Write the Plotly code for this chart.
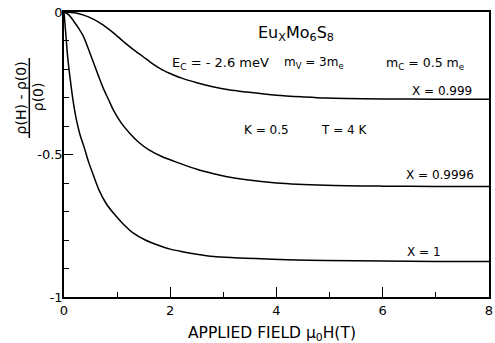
import plotly.graph_objects as go

# X = 0.999
h_a = [0, 0.2, 0.37, 0.55, 0.74, 0.93, 1.12, 1.3, 1.49, 1.67, 1.86, 2.05, 2.23, 2.5, 2.8, 3.1, 3.44, 4.0, 4.5, 4.93, 6.0, 7.0, 8.0]
r_a = [0, -0.003, -0.011, -0.025, -0.046, -0.073, -0.104, -0.131, -0.157, -0.182, -0.204, -0.220, -0.233, -0.248, -0.262, -0.273, -0.281, -0.292, -0.298, -0.302, -0.305, -0.306, -0.306]

# X = 0.9996
h_b = [0, 0.1, 0.19, 0.28, 0.37, 0.46, 0.56, 0.65, 0.74, 0.84, 0.93, 1.08, 1.24, 1.4, 1.6, 1.85, 2.18, 2.5, 2.8, 3.07, 3.4, 4.0, 4.93, 6.0, 7.0, 8.0]
r_b = [0, -0.012, -0.034, -0.058, -0.087, -0.13, -0.18, -0.225, -0.268, -0.308, -0.344, -0.39, -0.426, -0.456, -0.484, -0.508, -0.531, -0.552, -0.567, -0.578, -0.588, -0.600, -0.608, -0.611, -0.612, -0.612]

# X = 1
h_c = [0, 0.035, 0.07, 0.12, 0.17, 0.23, 0.3, 0.38, 0.46, 0.54, 0.66, 0.79, 0.95, 1.1, 1.3, 1.53, 1.8, 2.0, 2.23, 2.5, 2.82, 3.2, 3.6, 4.2, 4.93, 6.0, 7.0, 8.0]
r_c = [0, -0.08, -0.16, -0.24, -0.31, -0.375, -0.43, -0.475, -0.525, -0.566, -0.625, -0.671, -0.71, -0.741, -0.775, -0.80, -0.82, -0.832, -0.841, -0.85, -0.858, -0.862, -0.865, -0.869, -0.872, -0.874, -0.875, -0.875]

x_ticks = [0, 2, 4, 6, 8]
x_minor = [1, 3, 5, 7]
y_ticks = [0, -0.5, -1]
y_ticktext = ["0", "-0.5", "-1"]

FONT = "DejaVu Sans"

fig = go.Figure()
for hx, ry in [(h_a, r_a), (h_b, r_b), (h_c, r_c)]:
    fig.add_trace(go.Scatter(x=hx, y=ry, mode="lines",
                             line=dict(color="black", width=1.5, shape="spline", smoothing=0.8),
                             showlegend=False, hoverinfo="skip"))

W, H = 495, 343
L, R, T, B = 64, 2, 12, 46
pw, ph = W - L - R, H - T - B

def px(x):
    return (x - L) / pw

def py(y):
    return (H - B - y) / ph

fig.update_layout(
    width=W, height=H, autosize=False,
    margin=dict(l=L, r=R, t=T, b=B, pad=0),
    plot_bgcolor="white", paper_bgcolor="white",
    font=dict(family=FONT, size=13, color="black"),
    xaxis=dict(range=[0, 8], tickvals=x_ticks, ticks="inside", ticklen=10, tickwidth=1.3,
               tickcolor="black", showline=True, linewidth=1.5, linecolor="black", mirror=True,
               showgrid=False, zeroline=False, tickfont=dict(size=13),
               ticklabeloverflow="allow", ticklabelstandoff=1,
               minor=dict(tickvals=x_minor, ticks="inside", ticklen=5, tickwidth=1.2, tickcolor="black", showgrid=False)),
    yaxis=dict(range=[-1, 0], tickvals=y_ticks, ticktext=y_ticktext, ticks="inside", ticklen=9, tickwidth=1.3,
               tickcolor="black", showline=True, linewidth=1.5, linecolor="black", mirror=True,
               showgrid=False, zeroline=False, tickfont=dict(size=13),
               ticklabeloverflow="allow", ticklabelstandoff=-3,
               minor=dict(dtick=0.1, ticks="inside", ticklen=5, tickwidth=1.2, tickcolor="black", showgrid=False)),
)

ann = [
    ("Eu<sub>X</sub>Mo<sub>6</sub>S<sub>8</sub>", 298, 33, "center", 16),
    ("E<sub>C</sub> = - 2.6 meV", 222, 63, "center", 13),
    ("m<sub>V</sub> = 3m<sub>e</sub>", 316, 63, "center", 12),
    ("m<sub>C</sub> = 0.5 m<sub>e</sub>", 428, 63, "center", 12.5),
    ("X = 0.999", 413, 91, "left", 12),
    ("K = 0.5", 268, 130, "center", 12),
    ("T = 4 K", 347, 130, "center", 12),
    ("X = 0.9996", 407, 175, "left", 12),
    ("X = 1", 408, 252, "left", 12),
]
for text, x, y, xa, s in ann:
    fig.add_annotation(text=text, x=px(x), y=py(y), xref="paper", yref="paper",
                       xanchor=xa, yanchor="middle", showarrow=False, font=dict(size=s))

fig.add_annotation(text="APPLIED FIELD μ<sub>0</sub>H(T)", x=px(274), y=py(333.5), xref="paper", yref="paper",
                   xanchor="center", yanchor="middle", showarrow=False, font=dict(size=15.5))

# y-axis title as a fraction
fig.add_annotation(text="ρ(H) - ρ(0)", x=px(21), y=py(98), xref="paper", yref="paper",
                   xanchor="center", yanchor="middle", showarrow=False, textangle=-90, font=dict(size=14))
fig.add_annotation(text="ρ(0)", x=px(38), y=py(97), xref="paper", yref="paper",
                   xanchor="center", yanchor="middle", showarrow=False, textangle=-90, font=dict(size=14))
fig.add_shape(type="line", xref="paper", yref="paper", x0=px(29), x1=px(29), y0=py(138), y1=py(58),
              line=dict(color="black", width=1.5))

fig.write_html("out.html")
